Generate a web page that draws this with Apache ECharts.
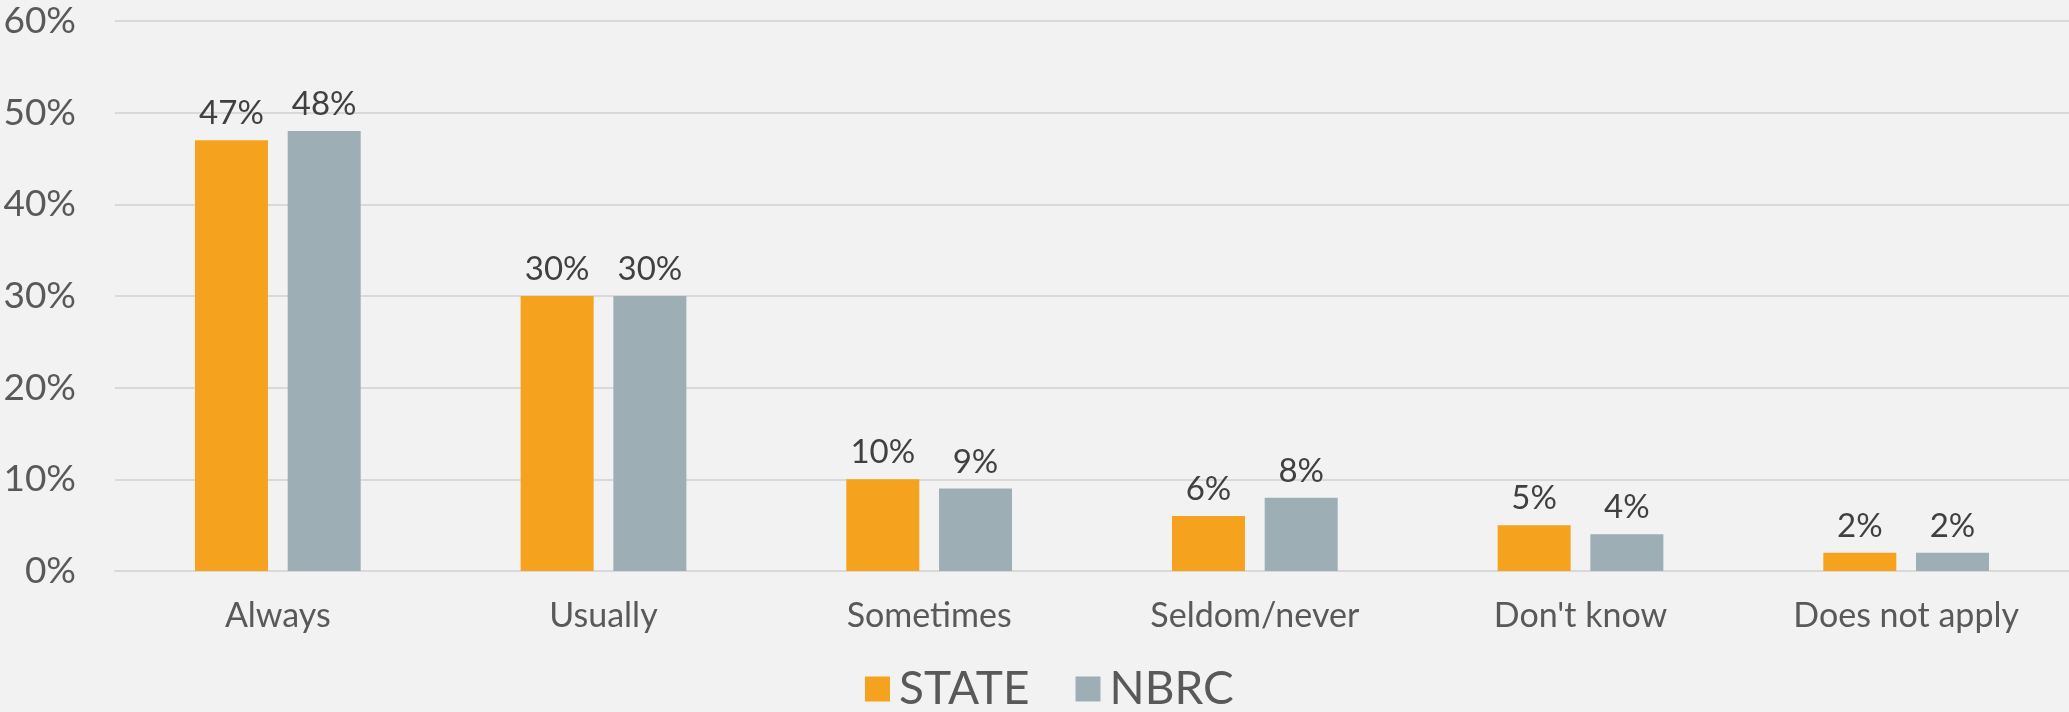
<!DOCTYPE html>
<html>
<head>
<meta charset="utf-8">
<script src="https://cdn.jsdelivr.net/npm/echarts@6/dist/echarts.min.js"></script>
<style>
html,body{margin:0;padding:0;background:#F2F2F2;}
#chart{width:2069px;height:712px;}
</style>
</head>
<body>
<div id="chart"></div>
<script>
const categories = ['Always', 'Usually', 'Sometimes', 'Seldom/never', "Don't know", 'Does not apply'];
const stateValues = [47, 30, 10, 6, 5, 2];
const nbrcValues = [48, 30, 9, 8, 4, 2];
const seriesNames = ['STATE', 'NBRC'];
const yTicks = { min: 0, max: 60, interval: 10 };

const FONT = 'Lato, "Open Sans", sans-serif';
const chart = echarts.init(document.getElementById('chart'), null, { renderer: 'canvas' });
const labelCfg = {
  show: true, position: 'top', distance: 10,
  formatter: '{c}%', color: '#404040', fontSize: 33, fontFamily: FONT
};
chart.setOption({
  backgroundColor: '#F2F2F2',
  animation: false,
  grid: { left: 115, right: 0, top: 21, bottom: 141 },
  legend: {
    data: seriesNames,
    left: 865, bottom: 0, padding: 0,
    itemWidth: 25, itemHeight: 25, itemGap: 46,
    icon: 'rect',
    textStyle: { color: '#595959', fontSize: 46, fontFamily: FONT, padding: [0, 0, 0, 4] }
  },
  xAxis: {
    type: 'category', data: categories,
    axisLine: { show: true, lineStyle: { color: '#D9D9D9', width: 2 } },
    axisTick: { show: false },
    axisLabel: { color: '#595959', fontSize: 34, fontFamily: FONT, margin: 28 }
  },
  yAxis: {
    type: 'value', min: yTicks.min, max: yTicks.max, interval: yTicks.interval,
    axisLine: { show: false }, axisTick: { show: false },
    splitLine: { lineStyle: { color: '#D9D9D9', width: 2 } },
    axisLabel: { formatter: '{value}%', color: '#595959', fontSize: 37, fontFamily: FONT, margin: 39 }
  },
  series: [
    { name: seriesNames[0], type: 'bar', data: stateValues, barWidth: 73, barGap: '27%',
      itemStyle: { color: '#F5A31E' }, label: labelCfg },
    { name: seriesNames[1], type: 'bar', data: nbrcValues, barWidth: 73, barGap: '27%',
      itemStyle: { color: '#9DAEB4' }, label: labelCfg }
  ]
});
</script>
</body>
</html>
